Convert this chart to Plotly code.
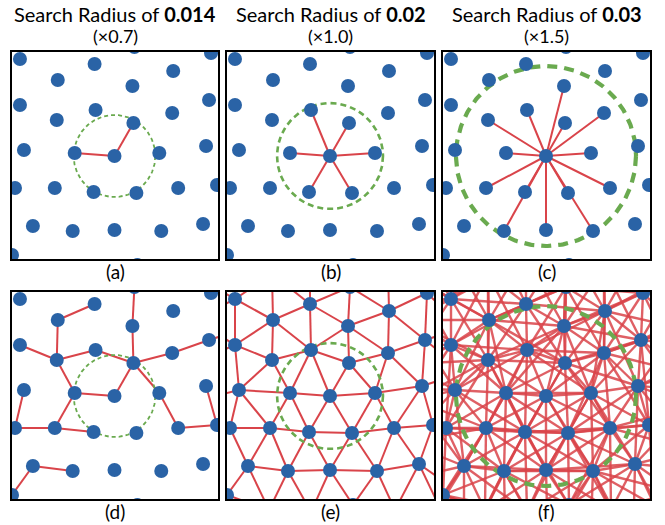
import numpy as np
import plotly.graph_objects as go

# ---------------- data ----------------
PANEL_LABELS = ["(a)", "(b)", "(c)", "(d)", "(e)", "(f)"]
RADIUS_TEXT = ["0.014", "0.02", "0.03"]
RADIUS_SCALE = ["(×0.7)", "(×1.0)", "(×1.5)"]
# search radius expressed in the panel's own units (panel spans 0..207)
SEARCH_RADIUS = [41, 53, 90]
CENTER_INDEX = 14

# point cloud (panel units, y downward); first 30 are inside the view window
PX = [8, 83, 162, 200, 46, 121, 8, 84, 161, 198,
      45, 122, 12, 63, 103, 148, 195, 3, 43, 82,
      125, 167, 206, 21, 61, 103, 150, 192, 0, 126,
      # ring just outside the window
      -30, 8, 45, 83, 123, 161, 198, 238, 236, 238,
      246, 248, 232, 42, 84, 168, 212, -32, -36, -28,
      -38, -42, -20,
      # second ring
      -30, 8, 45, 83, 123, 161, 200, 238, -68, 276,
      -70, -70, -68, -78, -80, -82, -60,
      276, 276, 280, 288, 272, 256,
      21, 63, 105, 147, 190, 234]
PY = [7, 12, 19, 1, 28, 34, 53, 58, 61, 48,
      68, 71, 98, 101, 104, 101, 94, 136, 136, 140,
      141, 136, 133, 174, 179, 178, 179, 172, 203, 213,
      -15, -39, -18, -34, -5, -25, -45, -22, 36, 80,
      115, 158, 200, 218, 220, 218, 214, 28, 72, 108,
      150, 188, 240,
      -60, -85, -64, -80, -50, -71, -90, -68, -38, -38,
      8, 52, 95, 130, 170, 210, 250,
      10, 56, 100, 138, 180, 236,
      258, 262, 254, 258, 256, 250]

# ---------------- styling ----------------
W, H = 665, 525
COL_PX = [(12, 218), (227, 434), (443, 650)]
ROW_PX = [(52, 259), (292, 499)]
EXTENT = 207
DOT = "#2a63a6"
EDGE = "#d9444a"
GREEN = "#6aaa4f"
FONT = "Lato"
CIRCLE_W = [1.8, 2.6, 4.2]
CIRCLE_DASH = ["4px,3px", "6px,4px", "10px,7px"]

px = np.array(PX, float)
py = np.array(PY, float)
n = len(px)

fig = go.Figure()


def edges_for(r, center_only):
    xs, ys = [], []
    if center_only:
        i = CENTER_INDEX
        for j in range(n):
            if j != i and np.hypot(px[i] - px[j], py[i] - py[j]) < r:
                xs += [px[i], px[j], None]
                ys += [py[i], py[j], None]
    else:
        for i in range(n):
            for j in range(i + 1, n):
                if np.hypot(px[i] - px[j], py[i] - py[j]) < r:
                    xs += [px[i], px[j], None]
                    ys += [py[i], py[j], None]
    return xs, ys


theta = np.linspace(0, 2 * np.pi, 361)
for row in range(2):
    for col in range(3):
        k = row * 3 + col + 1
        xa = "x" if k == 1 else f"x{k}"
        ya = "y" if k == 1 else f"y{k}"
        r = SEARCH_RADIUS[col]
        ex, ey = edges_for(r, center_only=(row == 0))
        if row == 1 and col == 2:
            ew, ec = 2.4, "rgba(217,68,74,0.85)"
        else:
            ew, ec = 2.0, EDGE
        fig.add_trace(go.Scatter(x=ex, y=ey, mode="lines", xaxis=xa, yaxis=ya,
                                 line=dict(color=ec, width=ew), hoverinfo="skip",
                                 showlegend=False))
        cx, cy = px[CENTER_INDEX], py[CENTER_INDEX]
        fig.add_trace(go.Scatter(x=cx + r * np.cos(theta), y=cy + r * np.sin(theta),
                                 mode="lines", xaxis=xa, yaxis=ya,
                                 line=dict(color=GREEN, width=CIRCLE_W[col],
                                           dash=CIRCLE_DASH[col]),
                                 hoverinfo="skip", showlegend=False))
        fig.add_trace(go.Scatter(x=px, y=py, mode="markers", xaxis=xa, yaxis=ya,
                                 marker=dict(color=DOT, size=14, line=dict(width=0)),
                                 cliponaxis=True, hoverinfo="skip", showlegend=False))
        x0, x1 = COL_PX[col]
        y0, y1 = ROW_PX[row]
        axis_common = dict(showgrid=False, zeroline=False, showticklabels=False,
                           ticks="", showline=True, mirror=True, linecolor="black",
                           linewidth=1.6, fixedrange=True)
        fig.layout[("xaxis" if k == 1 else f"xaxis{k}")] = dict(
            domain=[x0 / W, x1 / W], range=[0, EXTENT], anchor=ya, **axis_common)
        fig.layout[("yaxis" if k == 1 else f"yaxis{k}")] = dict(
            domain=[1 - y1 / H, 1 - y0 / H], range=[EXTENT, 0], anchor=xa, **axis_common)
        fig.add_annotation(x=(x0 + x1) / 2 / W, y=1 - (y1 + 12) / H, xref="paper",
                           yref="paper", text=PANEL_LABELS[k - 1], showarrow=False,
                           font=dict(family=FONT, size=19, color="black"),
                           xanchor="center", yanchor="middle")

for col in range(3):
    x0, x1 = COL_PX[col]
    fig.add_annotation(x=(x0 + x1) / 2 / W, y=1 - 14 / H, xref="paper", yref="paper",
                       text=f"Search Radius of <b>{RADIUS_TEXT[col]}</b>", showarrow=False,
                       font=dict(family=FONT, size=20, color="black"),
                       xanchor="center", yanchor="middle")
    fig.add_annotation(x=(x0 + x1) / 2 / W, y=1 - 36 / H, xref="paper", yref="paper",
                       text=RADIUS_SCALE[col], showarrow=False,
                       font=dict(family=FONT, size=18, color="black"),
                       xanchor="center", yanchor="middle")

fig.update_layout(width=W, height=H, margin=dict(l=0, r=0, t=0, b=0),
                  paper_bgcolor="white", plot_bgcolor="white", hovermode=False)
fig.write_html("out.html", config={"displayModeBar": False, "staticPlot": True},
               post_script="document.body.style.margin='0';document.body.style.overflow='hidden';")
